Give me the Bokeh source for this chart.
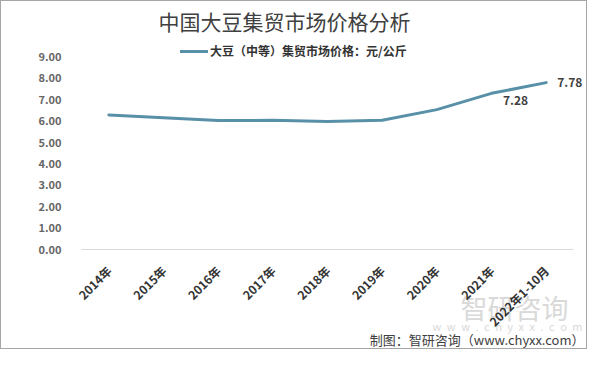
import math
from bokeh.plotting import figure
from bokeh.models import (ColumnDataSource, Range1d, FixedTicker,
                          NumeralTickFormatter, Label, LabelSet, Legend, LegendItem)
from bokeh.core.properties import value
from bokeh.embed import file_html
from bokeh.resources import INLINE

# ---- data ----
categories = ["2014年", "2015年", "2016年", "2017年", "2018年",
              "2019年", "2020年", "2021年", "2022年1-10月"]
prices = [6.27, 6.14, 6.01, 6.02, 5.97, 6.02, 6.52, 7.28, 7.78]
y_ticks = [0, 1, 2, 3, 4, 5, 6, 7, 8, 9]
series_name = "大豆（中等）集贸市场价格：元/公斤"
title_text = "中国大豆集贸市场价格分析"
source_text = "制图：智研咨询（www.chyxx.com）"
brand_text = "智研咨询"
brand_url = "\u2002".join("www.chyxx.com")

FONT = "Noto Sans CJK SC"
LINE_COLOR = "#5890A8"

idx = list(range(len(categories)))
src = ColumnDataSource(dict(x=idx, y=prices))

W, H = 587, 349
p = figure(width=W, height=H,
           x_range=Range1d(-1.9634, 8.7744),
           y_range=Range1d(-4.731, 11.569),
           output_backend="svg", toolbar_location=None,
           min_border_left=0, min_border_right=0,
           min_border_top=0, min_border_bottom=0,
           styles={"border": "1px solid #a6a6a6"})
p.background_fill_color = "white"
p.border_fill_color = "white"
p.outline_line_color = None
p.xgrid.grid_line_color = None
p.ygrid.grid_line_color = None

r = p.line("x", "y", source=src, line_color=LINE_COLOR, line_width=3,
           line_join="round", line_cap="round")

# y axis (pinned at the left edge of the category area)
p.yaxis.fixed_location = -0.5
p.yaxis.ticker = FixedTicker(ticks=y_ticks)
p.yaxis.formatter = NumeralTickFormatter(format="0.00")
p.yaxis.axis_line_color = None
p.yaxis.major_tick_line_color = None
p.yaxis.minor_tick_line_color = None
p.yaxis.major_label_standoff = 14
p.yaxis.major_label_text_font = FONT
p.yaxis.major_label_text_font_size = "11px"
p.yaxis.major_label_text_font_style = "bold"
p.yaxis.major_label_text_color = "#666666"

# x axis (pinned at y = 0)
p.xaxis.fixed_location = 0
p.xaxis.ticker = FixedTicker(ticks=idx)
p.xaxis.major_label_overrides = {i: c for i, c in zip(idx, categories)}
p.xaxis.bounds = (-0.5, len(categories) - 0.5)
p.xaxis.axis_line_color = "#d9d9d9"
p.xaxis.axis_line_width = 1
p.xaxis.major_tick_line_color = None
p.xaxis.minor_tick_line_color = None
p.xaxis.major_label_orientation = math.pi / 4
p.xaxis.major_label_standoff = 13
p.xaxis.major_label_text_font = FONT
p.xaxis.major_label_text_font_size = "12px"
p.xaxis.major_label_text_font_style = "bold"
p.xaxis.major_label_text_color = "#333333"

# data labels for the last two points
s1 = ColumnDataSource(dict(x=idx[7:8], y=prices[7:8],
                           t=["%.2f" % v for v in prices[7:8]]))
s2 = ColumnDataSource(dict(x=idx[8:9], y=prices[8:9],
                           t=["%.2f" % v for v in prices[8:9]]))
p.add_layout(LabelSet(x="x", y="y", text="t", source=s1, x_offset=24, y_offset=-7,
                      text_align="center", text_baseline="middle",
                      text_font=value(FONT), text_font_size="12px",
                      text_font_style="bold", text_color="#404040"))
p.add_layout(LabelSet(x="x", y="y", text="t", source=s2, x_offset=11, y_offset=0,
                      text_align="left", text_baseline="middle",
                      text_font=value(FONT), text_font_size="12px",
                      text_font_style="bold", text_color="#404040"))

# legend
legend = Legend(items=[LegendItem(label=series_name, renderers=[r])],
                location=(179, 291), orientation="horizontal",
                padding=0, margin=0, spacing=0,
                glyph_width=28, glyph_height=14, label_height=14,
                label_standoff=2,
                label_text_font=FONT, label_text_font_size="12px",
                label_text_font_style="bold", label_text_color="#333333",
                background_fill_alpha=0, border_line_color=None)
p.add_layout(legend, "center")

# title
p.add_layout(Label(x=283, y=330, x_units="screen", y_units="screen",
                   text=title_text, text_align="center", text_baseline="middle",
                   text_font=FONT, text_font_size="21px",
                   text_color="#404040"))

# watermark (behind everything) and source line
p.add_layout(Label(x=459, y=43, x_units="screen", y_units="screen",
                   text=brand_text, text_align="left", text_baseline="middle",
                   text_font=FONT, text_font_size="27px",
                   text_color="#d9d9d9", level="underlay"))
p.add_layout(Label(x=431, y=25, x_units="screen", y_units="screen",
                   text=brand_url, text_align="left", text_baseline="middle",
                   text_font=FONT, text_font_size="11px",
                   text_color="#d9d9d9", level="underlay"))
p.add_layout(Label(x=583, y=11, x_units="screen", y_units="screen",
                   text=source_text, text_align="right", text_baseline="middle",
                   text_font=FONT, text_font_size="13px",
                   text_color="#404040"))

open("out.html", "w").write(file_html(p, INLINE))
